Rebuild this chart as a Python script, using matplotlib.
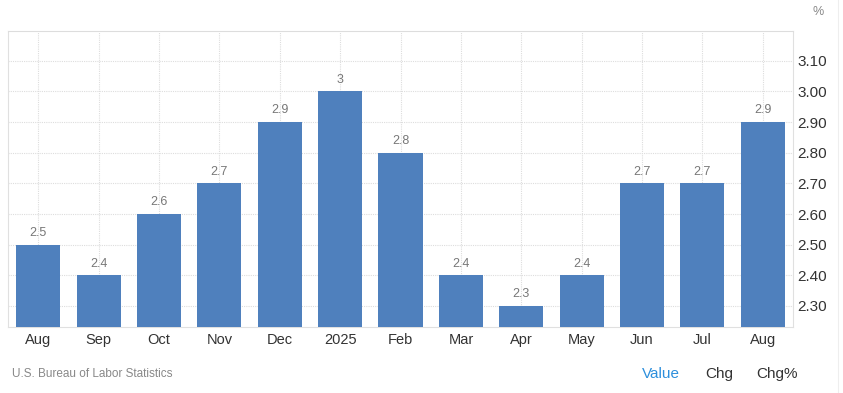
import numpy as np
import matplotlib.pyplot as plt

# monthly inflation-style values, Aug 2024 .. Aug 2025
months = ['Aug', 'Sep', 'Oct', 'Nov', 'Dec', '2025', 'Feb', 'Mar', 'Apr', 'May', 'Jun', 'Jul', 'Aug']
values = [2.5, 2.4, 2.6, 2.7, 2.9, 3.0, 2.8, 2.4, 2.3, 2.4, 2.7, 2.7, 2.9]
yticks = [2.30, 2.40, 2.50, 2.60, 2.70, 2.80, 2.90, 3.00, 3.10]

plt.rcParams['font.family'] = ['Liberation Sans', 'DejaVu Sans']

fig = plt.figure(figsize=(8.43, 3.93), dpi=100)
ax = fig.add_axes([8/843, 66/393, 785/843, 296/393])

x = np.arange(len(months))
bars = ax.bar(x, values, width=0.73, color='#4f80bd', zorder=3)
ax.set_xlim(-0.5, len(months) - 0.5)
ax.set_ylim(2.2315, 3.197)

for xi, v in zip(x, values):
    lbl = ('%g' % v)
    ax.annotate(lbl, (xi, v), xytext=(0, 4), textcoords='offset points',
                ha='center', va='bottom', fontsize=9, color='#777777')

ax.set_xticks(x)
ax.set_xticklabels(months, fontsize=10.5, color='#333333')
ax.yaxis.tick_right()
ax.set_yticks(yticks)
ax.set_yticklabels(['%.2f' % t for t in yticks], fontsize=11, color='#333333')
ax.tick_params(axis='both', length=0)
ax.tick_params(axis='x', pad=4)
ax.tick_params(axis='y', pad=3)

ax.grid(True, color='#dddddd', linestyle=(0, (1, 1)), linewidth=0.8, zorder=0)
ax.spines['top'].set_color('#dddddd')
ax.spines['top'].set_linestyle((0, (1, 1)))
ax.spines['top'].set_linewidth(0.8)
for s in ['left', 'right', 'bottom']:
    ax.spines[s].set_color('#e0e0e0')
    ax.spines[s].set_linewidth(0.8)

fig.text(818/843, 1 - 12/393, '%', fontsize=9, color='#888888', ha='center', va='center')
fig.text(12/843, 1 - 374/393, 'U.S. Bureau of Labor Statistics', fontsize=8.5, color='#888888', va='center')
fig.text(661/843, 1 - 374/393, 'Value', fontsize=11, color='#2d8fdc', ha='center', va='center')
fig.text(719/843, 1 - 374/393, 'Chg', fontsize=11, color='#333333', ha='center', va='center')
fig.text(777/843, 1 - 374/393, 'Chg%', fontsize=11, color='#333333', ha='center', va='center')
fig.add_artist(plt.Line2D([838/843, 838/843], [0, 1], color='#eeeeee', linewidth=0.8))

fig.savefig('out.png', dpi=100)
